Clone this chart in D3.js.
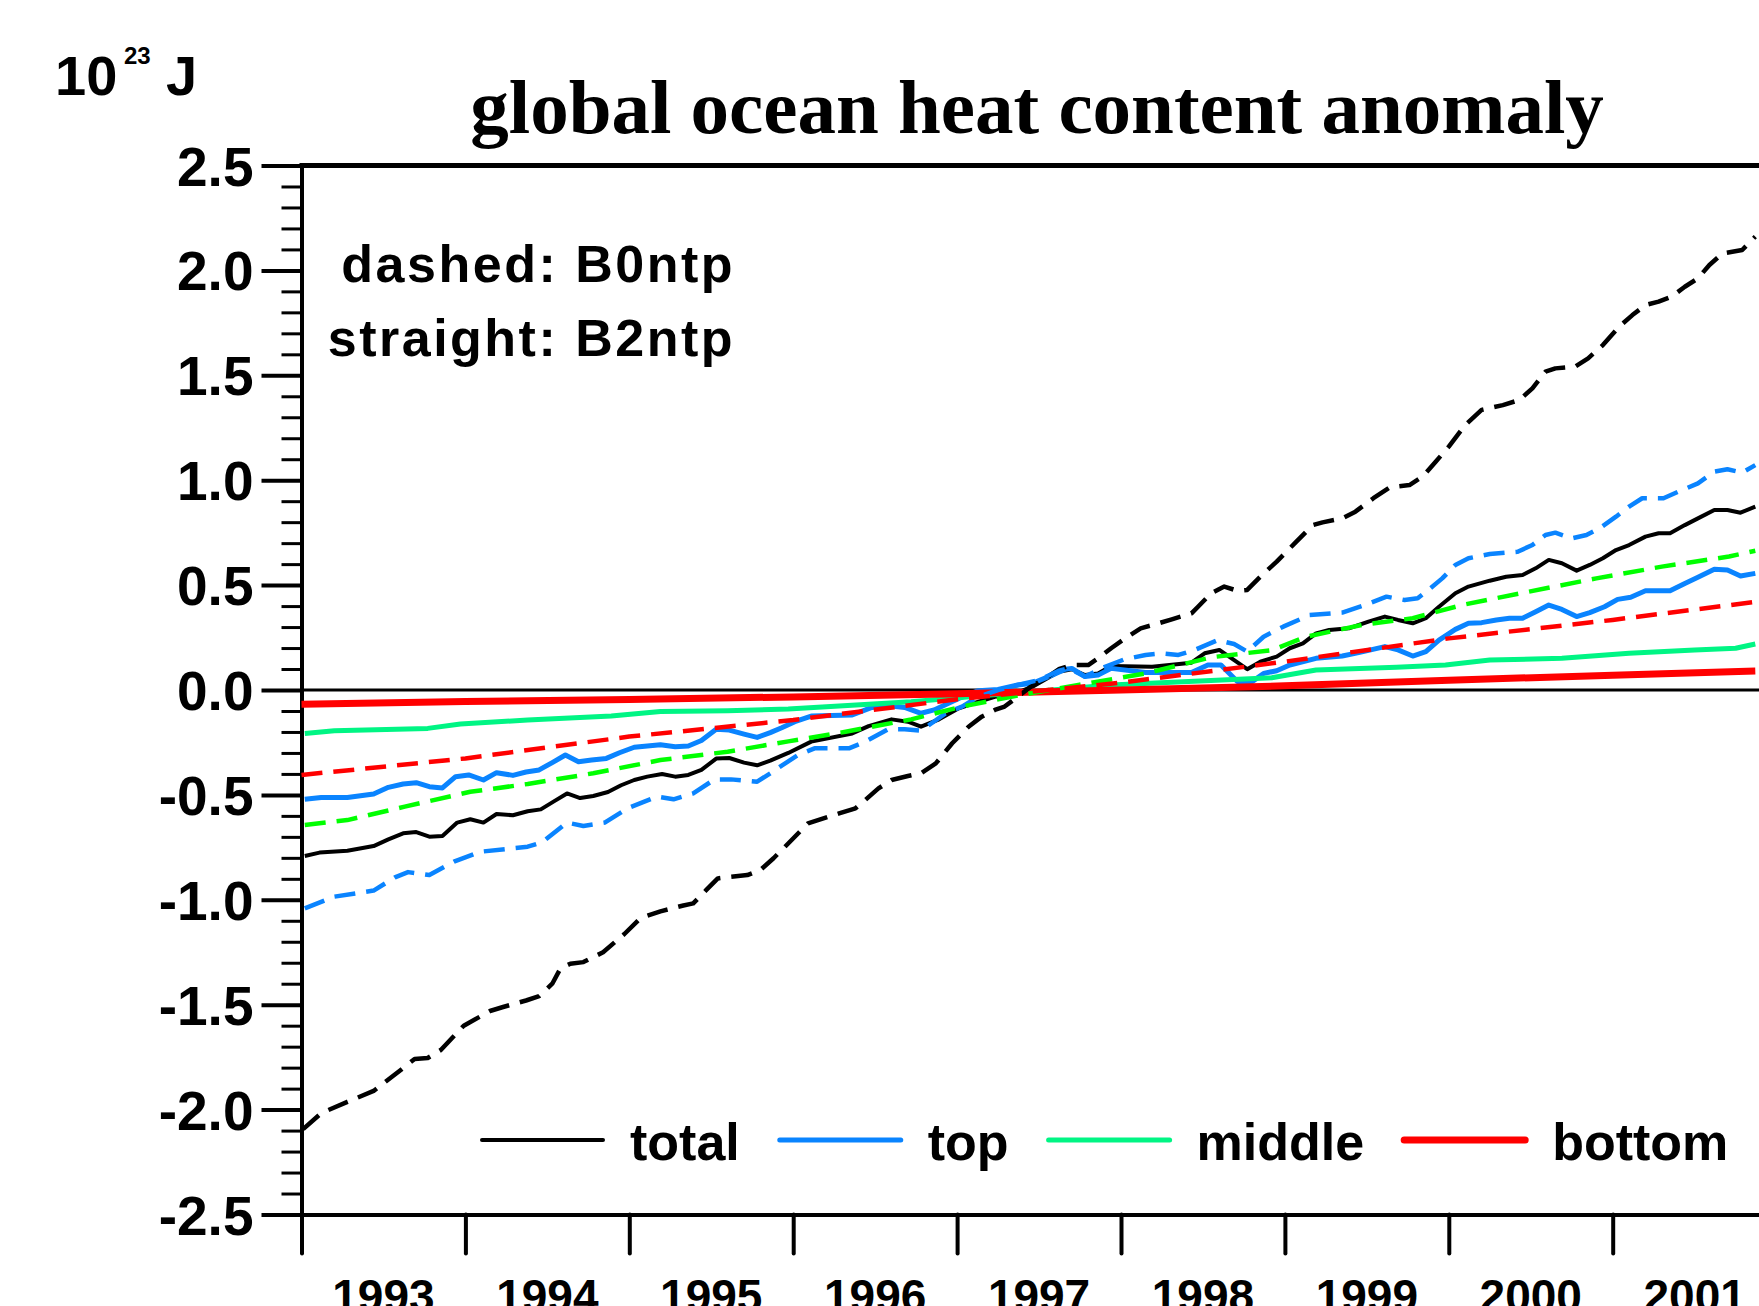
<!DOCTYPE html>
<html>
<head>
<meta charset="utf-8">
<script src="https://cdn.jsdelivr.net/npm/d3@7/dist/d3.min.js"></script>
<style>
  body { margin: 0; background: #fff; overflow: hidden; }
  text { font-family: 'Liberation Sans', Arial, sans-serif; font-weight: bold; fill: #000; }
  text.title { font-family: 'Liberation Serif', 'Times New Roman', serif; }
</style>
</head>
<body>
<div id="canvas"></div>
<script>
var years = [1993, 1994, 1995, 1996, 1997, 1998, 1999, 2000, 2001];
var yMajor = [-2.5, -2.0, -1.5, -1.0, -0.5, 0.0, 0.5, 1.0, 1.5, 2.0, 2.5];
var layers = ['total', 'top', 'middle', 'bottom'];

// straight lines: run B2ntp  [decimal year, 10^23 J]
var totalB2 = [[1993.02,-0.791],[1993.11,-0.775],[1993.28,-0.766],[1993.44,-0.744],[1993.53,-0.712],[1993.62,-0.683],[1993.70,-0.677],[1993.78,-0.699],[1993.86,-0.696],[1993.95,-0.632],[1994.03,-0.616],[1994.11,-0.632],[1994.19,-0.591],[1994.29,-0.597],[1994.38,-0.578],[1994.46,-0.569],[1994.54,-0.531],[1994.62,-0.493],[1994.70,-0.515],[1994.78,-0.505],[1994.87,-0.486],[1994.95,-0.454],[1995.03,-0.429],[1995.11,-0.413],[1995.20,-0.400],[1995.28,-0.413],[1995.36,-0.405],[1995.44,-0.381],[1995.53,-0.327],[1995.61,-0.324],[1995.70,-0.346],[1995.78,-0.359],[1995.86,-0.337],[1995.97,-0.300],[1996.11,-0.246],[1996.36,-0.207],[1996.46,-0.172],[1996.60,-0.140],[1996.70,-0.151],[1996.78,-0.175],[1996.89,-0.140],[1997.01,-0.087],[1997.13,-0.056],[1997.23,-0.032],[1997.33,-0.024],[1997.46,0.016],[1997.62,0.087],[1997.70,0.099],[1997.78,0.071],[1997.86,0.079],[1997.94,0.114],[1998.19,0.111],[1998.43,0.130],[1998.51,0.175],[1998.60,0.191],[1998.77,0.099],[1998.85,0.135],[1998.95,0.159],[1999.03,0.199],[1999.11,0.222],[1999.19,0.270],[1999.27,0.286],[1999.39,0.294],[1999.51,0.326],[1999.61,0.350],[1999.69,0.334],[1999.78,0.318],[1999.86,0.342],[1999.94,0.397],[2000.04,0.461],[2000.12,0.493],[2000.25,0.521],[2000.35,0.540],[2000.45,0.548],[2000.53,0.580],[2000.61,0.620],[2000.69,0.604],[2000.78,0.569],[2000.86,0.596],[2000.94,0.628],[2001.02,0.667],[2001.10,0.691],[2001.20,0.731],[2001.28,0.747],[2001.35,0.747],[2001.44,0.786],[2001.52,0.818],[2001.62,0.858],[2001.70,0.858],[2001.78,0.845],[2001.87,0.874]];
var topB2 = [[1993.02,-0.521],[1993.12,-0.512],[1993.28,-0.512],[1993.44,-0.496],[1993.53,-0.464],[1993.62,-0.448],[1993.70,-0.442],[1993.78,-0.461],[1993.86,-0.467],[1993.94,-0.413],[1994.02,-0.405],[1994.11,-0.429],[1994.19,-0.394],[1994.29,-0.407],[1994.37,-0.391],[1994.45,-0.381],[1994.53,-0.346],[1994.61,-0.310],[1994.69,-0.342],[1994.77,-0.334],[1994.86,-0.326],[1994.94,-0.299],[1995.03,-0.273],[1995.11,-0.267],[1995.19,-0.261],[1995.28,-0.270],[1995.36,-0.267],[1995.44,-0.241],[1995.53,-0.187],[1995.61,-0.191],[1995.70,-0.210],[1995.78,-0.226],[1995.86,-0.203],[1995.93,-0.180],[1996.01,-0.151],[1996.11,-0.124],[1996.36,-0.119],[1996.48,-0.083],[1996.60,-0.076],[1996.68,-0.083],[1996.78,-0.111],[1996.86,-0.095],[1997.01,-0.040],[1997.13,-0.003],[1997.25,0.003],[1997.37,0.024],[1997.46,0.032],[1997.58,0.071],[1997.66,0.099],[1997.70,0.103],[1997.78,0.064],[1997.86,0.071],[1997.94,0.103],[1998.15,0.083],[1998.43,0.083],[1998.53,0.119],[1998.61,0.119],[1998.71,0.040],[1998.80,0.040],[1998.87,0.079],[1998.95,0.092],[1999.03,0.119],[1999.19,0.151],[1999.35,0.162],[1999.45,0.178],[1999.61,0.207],[1999.69,0.191],[1999.78,0.162],[1999.86,0.183],[1999.94,0.238],[2000.04,0.289],[2000.12,0.318],[2000.20,0.321],[2000.29,0.334],[2000.37,0.342],[2000.45,0.342],[2000.53,0.373],[2000.61,0.405],[2000.69,0.384],[2000.78,0.350],[2000.86,0.369],[2000.95,0.397],[2001.03,0.432],[2001.11,0.442],[2001.20,0.473],[2001.35,0.473],[2001.44,0.508],[2001.52,0.537],[2001.62,0.575],[2001.70,0.572],[2001.78,0.543],[2001.87,0.556]];
var middleB2 = [[1993.02,-0.207],[1993.20,-0.194],[1993.77,-0.183],[1993.97,-0.162],[1994.38,-0.143],[1994.89,-0.124],[1995.19,-0.103],[1995.60,-0.099],[1995.97,-0.090],[1996.72,-0.056],[1997.13,-0.029],[1997.94,0.024],[1998.92,0.058],[1999.19,0.095],[1999.68,0.108],[1999.98,0.119],[2000.25,0.143],[2000.69,0.151],[2001.10,0.175],[2001.50,0.191],[2001.75,0.199],[2001.87,0.219]];
var bottomB2 = [[1993.0,-0.068],[1994.0,-0.055],[1995.0,-0.045],[1996.0,-0.033],[1997.0,-0.018],[1998.0,0.0],[1999.0,0.020],[2000.0,0.047],[2001.0,0.070],[2001.87,0.090]];

// dashed lines: run B0ntp
var totalB0 = [[1993.01,-2.093],[1993.12,-2.017],[1993.28,-1.963],[1993.44,-1.911],[1993.55,-1.845],[1993.69,-1.759],[1993.77,-1.754],[1993.85,-1.716],[1993.99,-1.600],[1994.15,-1.530],[1994.23,-1.511],[1994.37,-1.480],[1994.45,-1.459],[1994.53,-1.400],[1994.58,-1.327],[1994.64,-1.305],[1994.72,-1.297],[1994.84,-1.250],[1994.97,-1.163],[1995.07,-1.086],[1995.19,-1.055],[1995.33,-1.027],[1995.39,-1.017],[1995.47,-0.953],[1995.54,-0.898],[1995.62,-0.890],[1995.72,-0.882],[1995.80,-0.858],[1995.88,-0.802],[1995.95,-0.747],[1996.09,-0.636],[1996.28,-0.588],[1996.38,-0.564],[1996.44,-0.524],[1996.52,-0.469],[1996.60,-0.429],[1996.70,-0.410],[1996.78,-0.397],[1996.87,-0.350],[1996.97,-0.254],[1997.07,-0.175],[1997.15,-0.127],[1997.23,-0.095],[1997.29,-0.079],[1997.37,-0.032],[1997.45,0.016],[1997.54,0.056],[1997.62,0.099],[1997.70,0.119],[1997.80,0.119],[1997.86,0.151],[1997.94,0.199],[1998.04,0.254],[1998.12,0.294],[1998.23,0.318],[1998.31,0.337],[1998.43,0.365],[1998.47,0.397],[1998.55,0.461],[1998.63,0.493],[1998.71,0.473],[1998.77,0.477],[1998.85,0.540],[1998.95,0.612],[1999.07,0.707],[1999.17,0.786],[1999.23,0.799],[1999.35,0.818],[1999.43,0.850],[1999.54,0.914],[1999.64,0.966],[1999.76,0.977],[1999.84,1.017],[1999.92,1.088],[2000.00,1.160],[2000.10,1.263],[2000.20,1.335],[2000.33,1.358],[2000.43,1.382],[2000.51,1.438],[2000.59,1.517],[2000.65,1.533],[2000.77,1.541],[2000.85,1.581],[2000.94,1.644],[2001.04,1.732],[2001.12,1.787],[2001.20,1.835],[2001.28,1.851],[2001.36,1.875],[2001.44,1.922],[2001.52,1.962],[2001.59,2.026],[2001.67,2.081],[2001.73,2.089],[2001.79,2.097],[2001.87,2.161]];
var topB0 = [[1993.02,-1.041],[1993.20,-0.985],[1993.44,-0.956],[1993.57,-0.893],[1993.65,-0.868],[1993.78,-0.882],[1993.93,-0.818],[1994.09,-0.771],[1994.38,-0.747],[1994.47,-0.725],[1994.62,-0.632],[1994.72,-0.648],[1994.85,-0.632],[1994.99,-0.564],[1995.17,-0.508],[1995.27,-0.521],[1995.39,-0.493],[1995.52,-0.426],[1995.62,-0.426],[1995.78,-0.437],[1995.86,-0.397],[1995.93,-0.360],[1996.03,-0.310],[1996.13,-0.278],[1996.34,-0.278],[1996.44,-0.246],[1996.58,-0.187],[1996.68,-0.187],[1996.78,-0.194],[1996.93,-0.111],[1997.03,-0.079],[1997.13,-0.032],[1997.25,0.0],[1997.37,0.024],[1997.50,0.048],[1997.62,0.092],[1997.68,0.103],[1997.78,0.064],[1997.88,0.103],[1998.02,0.146],[1998.15,0.167],[1998.25,0.175],[1998.35,0.167],[1998.45,0.191],[1998.59,0.238],[1998.69,0.219],[1998.77,0.183],[1998.87,0.254],[1998.99,0.302],[1999.15,0.357],[1999.35,0.369],[1999.47,0.400],[1999.62,0.445],[1999.73,0.429],[1999.81,0.437],[1999.88,0.480],[1999.96,0.532],[2000.04,0.596],[2000.12,0.628],[2000.25,0.648],[2000.42,0.659],[2000.51,0.691],[2000.59,0.739],[2000.65,0.750],[2000.75,0.723],[2000.84,0.739],[2000.92,0.771],[2001.02,0.826],[2001.10,0.874],[2001.18,0.914],[2001.31,0.914],[2001.40,0.945],[2001.52,0.985],[2001.62,1.041],[2001.70,1.052],[2001.79,1.036],[2001.87,1.072]];
var middleB0 = [[1993.02,-0.643],[1993.28,-0.620],[1993.63,-0.556],[1994.03,-0.485],[1994.38,-0.448],[1994.78,-0.397],[1995.19,-0.334],[1995.60,-0.294],[1995.97,-0.245],[1996.32,-0.199],[1996.72,-0.140],[1997.03,-0.079],[1997.33,-0.032],[1997.74,0.024],[1998.15,0.079],[1998.55,0.156],[1998.92,0.190],[1999.13,0.254],[1999.47,0.310],[1999.78,0.342],[2000.08,0.405],[2000.49,0.469],[2000.90,0.532],[2001.30,0.588],[2001.71,0.636],[2001.87,0.664]];
var bottomB0 = [[1993.0,-0.405],[1994.0,-0.326],[1995.0,-0.222],[1996.0,-0.143],[1997.0,-0.044],[1998.0,0.035],[1999.0,0.135],[2000.0,0.246],[2001.0,0.334],[2001.87,0.420]];

var colors = { total: '#000000', top: '#0a84ff', middle: '#00f584', bottom: '#ff0000' };
var widths = { total: 4, top: 5, middle: 5, bottom: 7 };

function draw() {
    var svg = d3.select('#canvas').append('svg')
        .attr('width', 1759)
        .attr('height', 1306);

    var x = d3.scaleLinear().domain([1993, 2002]).range([301.5, 1776.6]);
    var y = d3.scaleLinear().domain([-2.5, 2.5]).range([1214.5, 165.5]);

    // left axis: major ticks with labels, minor ticks every 0.1
    var minor = d3.range(-25, 26).filter(function(i) { return i % 5 !== 0; })
        .map(function(i) { return i / 10; });

    var gMinor = svg.append('g')
        .attr('transform', 'translate(' + x(1993) + ',0)')
        .call(d3.axisLeft(y).tickValues(minor).tickSize(20).tickSizeOuter(0).tickFormat(''));
    gMinor.select('.domain').remove();
    gMinor.selectAll('line').attr('stroke', '#000').attr('stroke-width', 3);

    var gLeft = svg.append('g')
        .attr('transform', 'translate(' + x(1993) + ',0)')
        .call(d3.axisLeft(y).tickValues(yMajor).tickSize(40).tickSizeOuter(0).tickPadding(8)
            .tickFormat(function(d) { return d.toFixed(1); }));
    gLeft.select('.domain').attr('stroke', '#000').attr('stroke-width', 4);
    gLeft.selectAll('line').attr('stroke', '#000').attr('stroke-width', 4);
    gLeft.selectAll('text')
        .attr('font-size', 55)
        .attr('dy', '0.355em');

    // bottom axis: year boundaries, labels in the middle of each year
    var gBottom = svg.append('g')
        .attr('transform', 'translate(0,' + y(-2.5) + ')')
        .call(d3.axisBottom(x).tickValues(d3.range(1993, 2003)).tickSize(39).tickSizeOuter(0).tickFormat(''));
    gBottom.select('.domain').attr('stroke', '#000').attr('stroke-width', 4);
    gBottom.selectAll('line').attr('stroke', '#000').attr('stroke-width', 4).attr('stroke-linecap', 'round');

    svg.append('g').selectAll('text')
        .data(years)
        .enter()
        .append('text')
        .attr('x', function(d) { return x(d + 0.5); })
        .attr('y', y(-2.5) + 97)
        .attr('text-anchor', 'middle')
        .attr('font-size', 46)
        .text(function(d) { return d; });

    // top frame and zero line
    svg.append('line')
        .attr('x1', x(1993) - 2).attr('x2', x(2002))
        .attr('y1', y(2.5)).attr('y2', y(2.5))
        .attr('stroke', '#000').attr('stroke-width', 5);

    svg.append('line')
        .attr('x1', x(1993)).attr('x2', x(2002))
        .attr('y1', y(0)).attr('y2', y(0))
        .attr('stroke', '#000').attr('stroke-width', 3);

    var line = d3.line()
        .x(function(d) { return x(d[0]); })
        .y(function(d) { return y(d[1]); });

    var runs = [
        { layer: 'total', data: totalB2, dashed: false },
        { layer: 'top', data: topB2, dashed: false },
        { layer: 'middle', data: middleB2, dashed: false },
        { layer: 'bottom', data: bottomB2, dashed: false },
        { layer: 'total', data: totalB0, dashed: true },
        { layer: 'top', data: topB0, dashed: true },
        { layer: 'middle', data: middleB0, dashed: true },
        { layer: 'bottom', data: bottomB0, dashed: true }
    ];

    svg.append('g').selectAll('path')
        .data(runs)
        .enter()
        .append('path')
        .attr('d', function(d) { return line(d.data); })
        .attr('fill', 'none')
        .attr('stroke', function(d) {
            if (d.dashed && d.layer === 'middle') return '#00ff00';
            return colors[d.layer];
        })
        .attr('stroke-width', function(d) { return d.dashed ? 4.5 : widths[d.layer]; })
        .attr('stroke-dasharray', function(d) { return d.dashed ? '21,11' : null; })
        .attr('stroke-linejoin', 'round');

    // title and labels
    svg.append('text')
        .attr('class', 'title')
        .attr('x', (x(1993) + x(2002)) / 2 - 2)
        .attr('y', 133)
        .attr('text-anchor', 'middle')
        .attr('font-size', 77)
        .text('global ocean heat content anomaly');

    svg.append('text').attr('x', 55).attr('y', 95).attr('font-size', 56).text('10');
    svg.append('text').attr('x', 124).attr('y', 64).attr('font-size', 24).text('23');
    svg.append('text').attr('x', 166).attr('y', 95).attr('font-size', 56).text('J');

    svg.append('text').attr('x', 735).attr('y', 282).attr('text-anchor', 'end')
        .attr('font-size', 52).attr('letter-spacing', 2.5).text('dashed: B0ntp');
    svg.append('text').attr('x', 735).attr('y', 356).attr('text-anchor', 'end')
        .attr('font-size', 52).attr('letter-spacing', 2.5).text('straight: B2ntp');

    // legend for the four layers
    var legend = svg.append('g');
    var lx = 482;
    layers.forEach(function(name) {
        legend.append('line')
            .attr('x1', lx).attr('x2', lx + 121)
            .attr('y1', 1140).attr('y2', 1140)
            .attr('stroke', colors[name])
            .attr('stroke-width', widths[name])
            .attr('stroke-linecap', 'round');
        var t = legend.append('text')
            .attr('x', lx + 148)
            .attr('y', 1160)
            .attr('font-size', 52)
            .text(name);
        lx = lx + 148 + t.node().getComputedTextLength() + 40;
    });
}

draw();
</script>
</body>
</html>
